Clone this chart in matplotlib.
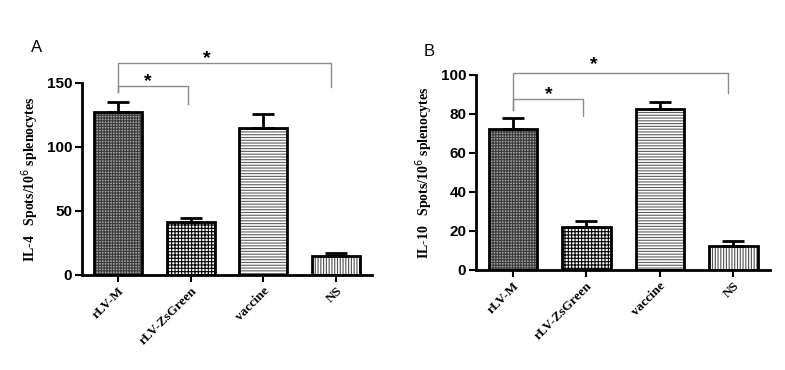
import matplotlib
matplotlib.use("Agg")
import matplotlib.pyplot as plt

# data
groups = ["rLV-M", "rLV-ZsGreen", "vaccine", "NS"]
il4_mean = [127, 41, 114.4, 14.6]
il4_err = [8, 3.2, 11.2, 2.8]
il10_mean = [72.3, 22.2, 82.4, 12.5]
il10_err = [5.6, 3.1, 3.6, 2.4]

hatches = ["++++++", "+++++", "------", "||||||"]
hatch_colors = ["#3c3c3c", "black", "#606060", "#505050"]
face_colors = ["#a0a0a0", "white", "white", "white"]

# significance brackets: (x0, x1, y, left leg bottom, right leg bottom)
il4_brackets = [(0, 2.93, 165, 143, 147), (0, 0.96, 147.5, 143, 133)]
il4_stars = [(1.22, 169), (0.41, 151)]
il10_brackets = [(0, 2.93, 101, 82, 90.6), (0, 0.96, 87.7, 82, 79)]
il10_stars = [(1.1, 105.5), (0.49, 90)]

plt.rcParams["hatch.linewidth"] = 0.8
SANS = "Liberation Sans"
SERIF = "Liberation Serif"

fig = plt.figure(figsize=(7.85, 3.7), dpi=100)
axA = fig.add_axes([0.1045, 0.2568, 0.3695, 0.5197])
axB = fig.add_axes([0.6064, 0.2703, 0.3746, 0.527])


def panel(ax, means, errs, ymax, step, ylabel, brackets, stars, letter, lx, ly):
    x = list(range(len(groups)))
    for i in x:
        # hatch layer, then the black outline on top
        ax.bar(i, means[i], width=0.66, facecolor=face_colors[i], edgecolor=hatch_colors[i],
               linewidth=0, hatch=hatches[i], zorder=2)
        ax.bar(i, means[i], width=0.66, facecolor="none", edgecolor="black",
               linewidth=2, zorder=2.5)
    ax.errorbar(x, means, yerr=[[0] * len(errs), errs], fmt="none", ecolor="black",
                elinewidth=2, capsize=8, capthick=2, zorder=3)
    ax.set_xlim(-0.5, 3.5)
    ax.set_ylim(0, ymax)
    ax.set_yticks(range(0, ymax + 1, step))
    ax.set_xticks(x)
    ax.set_xticklabels(groups, rotation=45, ha="right", rotation_mode="anchor",
                       family=SERIF, fontweight="bold", fontsize=9.5)
    for lab in ax.get_yticklabels():
        lab.set_family(SANS)
        lab.set_fontweight("bold")
        lab.set_fontsize(11)
    ax.spines["top"].set_visible(False)
    ax.spines["right"].set_visible(False)
    ax.spines["left"].set_linewidth(2)
    ax.spines["bottom"].set_linewidth(2)
    ax.tick_params(axis="both", direction="out", length=5, width=1.5, pad=2)
    ax.set_ylabel(ylabel, family=SERIF, fontweight="bold", fontsize=10, labelpad=4)

    for x0, x1, y, l0, l1 in brackets:
        ax.plot([x0, x0, x1, x1], [l0, y, y, l1], color="#8c8c8c", lw=1,
                clip_on=False, zorder=1)
    for sx, sy in stars:
        ax.text(sx, sy, "*", ha="center", va="center", fontsize=14,
                fontweight="bold", family=SANS, clip_on=False)

    fig.text(lx, ly, letter, fontsize=12, family=SANS, ha="left", va="center")


panel(axA, il4_mean, il4_err, 150, 50, "IL-4   Spots/10$^{6}$ splenocytes",
      il4_brackets, il4_stars, "A", 0.040, 1 - 48 / 370)
panel(axB, il10_mean, il10_err, 100, 20, "IL-10   Spots/10$^{6}$ splenocytes",
      il10_brackets, il10_stars, "B", 0.540, 1 - 52 / 370)

fig.savefig("out.png", dpi=100)
